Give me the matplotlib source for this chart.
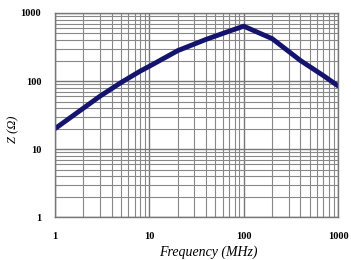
import matplotlib
matplotlib.use('Agg')
import matplotlib.pyplot as plt

# Impedance vs frequency
freq_mhz = [1, 2, 3, 5, 8, 10, 20, 40, 70, 100, 200, 400, 700, 1000]
z_ohm = [20, 40, 60, 95, 140, 165, 280, 410, 540, 640, 420, 200, 120, 85]

x_ticks = [1, 10, 100, 1000]
x_tick_labels = ['1', '10', '100', '1000']
y_ticks = [1, 10, 100, 1000]
y_tick_labels = ['1', '10', '100', '1000']

plt.rcParams['font.family'] = ['Liberation Serif', 'DejaVu Serif']

fig = plt.figure(figsize=(3.51, 2.6), dpi=100)
ax = fig.add_axes([0.157, 0.165, 0.806, 0.785])

ax.plot(freq_mhz, z_ohm, color='#14146e', linewidth=3.5, solid_capstyle='round')

ax.set_xscale('log')
ax.set_yscale('log')
ax.set_xlim(1, 1000)
ax.set_ylim(1, 1000)

ax.set_xticks(x_ticks)
ax.set_xticklabels(x_tick_labels, fontweight='bold')
ax.set_yticks(y_ticks)
ax.set_yticklabels(y_tick_labels, fontweight='bold')

# grid on major and all minor decades
ax.grid(which='major', color='#777777', linewidth=1.0)
ax.grid(which='minor', color='#888888', linewidth=0.8)
ax.tick_params(which='both', length=0)
ax.tick_params(axis='x', pad=11, labelsize=7.5)
ax.tick_params(axis='y', pad=10, labelsize=7.5)

for s in ax.spines.values():
    s.set_color('#777777')
    s.set_linewidth(1.0)

ax.set_xlabel('Frequency (MHz)', fontsize=10, style='italic')
ax.set_ylabel('Z (Ω)', fontsize=9, style='italic')
ax.xaxis.set_label_coords(0.54, -0.14)
ax.yaxis.set_label_coords(-0.125, 0.43)

plt.savefig('out.png', dpi=100)
